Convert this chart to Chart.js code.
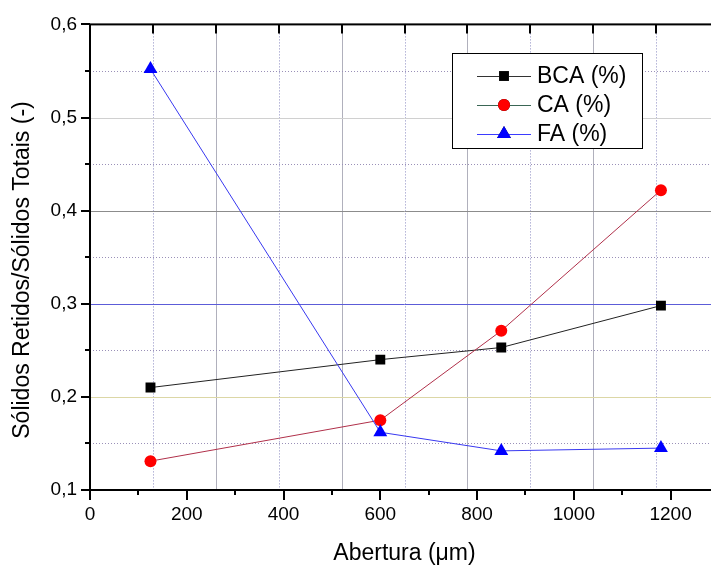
<!DOCTYPE html>
<html>
<head>
<meta charset="utf-8">
<script src="https://cdn.jsdelivr.net/npm/chart.js@4.4.1/dist/chart.umd.min.js"></script>
<style>
html, body { margin: 0; padding: 0; background: #fff; overflow: hidden; }
#wrap { width: 711px; height: 565px; overflow: hidden; }
canvas { display: block; }
</style>
</head>
<body>
<div id="wrap"><canvas id="sieveChart" width="730" height="565"></canvas></div>
<script>
// data
const aberturas = [125, 600, 850, 1180];
const bcaValues = [0.210, 0.240, 0.253, 0.298];
const caValues  = [0.131, 0.175, 0.271, 0.422];
const faValues  = [0.552, 0.162, 0.142, 0.145];
const seriesNames = ['BCA (%)', 'CA (%)', 'FA (%)'];

const xTickValues = [0, 200, 400, 600, 800, 1000, 1200];
const yTickValues = [0.1, 0.2, 0.3, 0.4, 0.5, 0.6];
const xTitle = 'Abertura (\u03bcm)';
const yTitle = 'S\u00f3lidos Retidos/S\u00f3lidos Totais (-)';

const FONT = '"Liberation Sans", Arial, sans-serif';

function toPoints(values) {
    return aberturas.map((a, i) => ({ x: a, y: values[i] }));
}

const legendLines = ['#333333', '#3a6655', '#3b3bff'];

const frameGrid = {
    id: 'frameGrid',
    beforeDatasetsDraw(chart) {
        const { ctx, chartArea: a, scales: { x, y } } = chart;
        ctx.save();
        ctx.lineWidth = 1;
        // vertical grid, every 130
        for (let i = 1; i < 10; i++) {
            const px = Math.round(x.getPixelForValue(130 * i)) + 0.5;
            ctx.beginPath();
            if (i % 2) { ctx.setLineDash([1, 2]); ctx.strokeStyle = '#8a8ac0'; }
            else { ctx.setLineDash([]); ctx.strokeStyle = '#b0b0bc'; }
            ctx.moveTo(px, a.top); ctx.lineTo(px, a.bottom); ctx.stroke();
        }
        // horizontal grid, every 0.05
        const solidCol = { 2: '#dcd7a6', 3: '#5c5cd8', 4: '#8c8c8c', 5: '#d0d0d0' };
        for (let k = 3; k < 12; k++) {
            const py = Math.round(y.getPixelForValue(k * 0.05)) + 0.5;
            ctx.beginPath();
            if (k % 2) { ctx.setLineDash([1, 2]); ctx.strokeStyle = '#9a90b8'; }
            else { ctx.setLineDash([]); ctx.strokeStyle = solidCol[k / 2]; }
            ctx.moveTo(a.left, py); ctx.lineTo(a.right, py); ctx.stroke();
        }
        ctx.restore();
    },
    afterDatasetsDraw(chart) {
        const { ctx, chartArea: a, scales: { x, y } } = chart;
        ctx.save();
        ctx.setLineDash([]);
        ctx.strokeStyle = '#000';
        ctx.lineWidth = 2;
        ctx.strokeRect(a.left, a.top, a.right - a.left, a.bottom - a.top);

        ctx.beginPath();
        // bottom ticks, outward
        for (let v = 0; v <= 1300; v += 100) {
            const px = Math.round(x.getPixelForValue(v));
            ctx.moveTo(px, a.bottom); ctx.lineTo(px, a.bottom + (v % 200 === 0 ? 10 : 5));
        }
        // left ticks, outward
        for (let k = 2; k <= 12; k++) {
            const py = Math.round(y.getPixelForValue(k * 0.05));
            ctx.moveTo(a.left, py); ctx.lineTo(a.left - (k % 2 === 0 ? 9 : 5), py);
            ctx.moveTo(a.right, py); ctx.lineTo(a.right - (k % 2 === 0 ? 8 : 4), py);
        }
        // top ticks, inward every 130
        for (let i = 1; i < 10; i++) {
            const px = Math.round(x.getPixelForValue(130 * i));
            ctx.moveTo(px, a.top); ctx.lineTo(px, a.top + 9);
        }
        ctx.stroke();

        // y title
        ctx.fillStyle = '#000';
        ctx.font = '23px ' + FONT;
        ctx.textAlign = 'center';
        ctx.textBaseline = 'middle';
        ctx.translate(23, 270);
        ctx.rotate(-Math.PI / 2);
        ctx.fillText(yTitle, 0, 0);
        ctx.restore();

        // legend box
        ctx.save();
        ctx.fillStyle = '#fff';
        ctx.fillRect(452, 53, 190, 95);
        ctx.strokeStyle = '#000';
        ctx.lineWidth = 1;
        ctx.strokeRect(452.5, 53.5, 190, 95);
        chart.data.datasets.forEach((ds, i) => {
            const cy = 76 + i * 29;
            ctx.beginPath();
            ctx.strokeStyle = legendLines[i];
            ctx.moveTo(477, cy + 0.5); ctx.lineTo(531, cy + 0.5);
            ctx.stroke();
            Chart.helpers.drawPoint(ctx, {
                pointStyle: ds.pointStyle, radius: ds.pointRadius, borderWidth: 0, rotation: 0
            }, 504, cy);
            ctx.fillStyle = ds.pointBackgroundColor;
            ctx.fill();
            ctx.fillStyle = '#000';
            ctx.font = '23px ' + FONT;
            ctx.textAlign = 'left';
            ctx.textBaseline = 'middle';
            ctx.fillText(ds.label, 537, cy + 1);
        });
        ctx.restore();
    }
};

const ctx = document.getElementById('sieveChart').getContext('2d');
new Chart(ctx, {
    type: 'line',
    data: {
        datasets: [
            {
                label: seriesNames[0], data: toPoints(bcaValues), order: 2,
                borderColor: '#222222', borderWidth: 1,
                pointStyle: 'rect', pointRadius: 7,
                pointBackgroundColor: '#000', pointBorderWidth: 0
            },
            {
                label: seriesNames[1], data: toPoints(caValues), order: 1,
                borderColor: '#b0304a', borderWidth: 1,
                pointStyle: 'circle', pointRadius: 6,
                pointBackgroundColor: '#ff0000', pointBorderWidth: 0
            },
            {
                label: seriesNames[2], data: toPoints(faValues), order: 0,
                borderColor: '#3838f0', borderWidth: 1,
                pointStyle: 'triangle', pointRadius: 8,
                pointBackgroundColor: '#0000ff', pointBorderWidth: 0
            }
        ]
    },
    options: {
        responsive: false,
        animation: false,
        devicePixelRatio: 1,
        layout: { padding: { top: 22, right: 11, left: 0, bottom: 0 } },
        plugins: { legend: { display: false }, tooltip: { enabled: false } },
        elements: { line: { tension: 0 } },
        scales: {
            x: {
                type: 'linear', min: 0, max: 1300,
                afterBuildTicks: s => { s.ticks = xTickValues.map(v => ({ value: v })); },
                afterFit: s => { s.height = 75; },
                grid: { display: false, drawTicks: false },
                border: { display: false },
                ticks: {
                    autoSkip: false, maxRotation: 0, padding: 13,
                    color: '#000', font: { family: FONT, size: 19 },
                    callback: v => String(v)
                },
                title: {
                    display: true, text: xTitle, color: '#000',
                    font: { family: FONT, size: 23, lineHeight: 1 },
                    padding: { top: 0, bottom: 0 }
                }
            },
            y: {
                type: 'linear', min: 0.1, max: 0.6,
                afterBuildTicks: s => { s.ticks = yTickValues.map(v => ({ value: v })); },
                afterFit: s => { s.width = 90; },
                grid: { display: false, drawTicks: false },
                border: { display: false },
                ticks: {
                    padding: 13, color: '#000', font: { family: FONT, size: 19 },
                    callback: v => v.toFixed(1).replace('.', ',')
                }
            }
        }
    },
    plugins: [frameGrid]
});
</script>
</body>
</html>
